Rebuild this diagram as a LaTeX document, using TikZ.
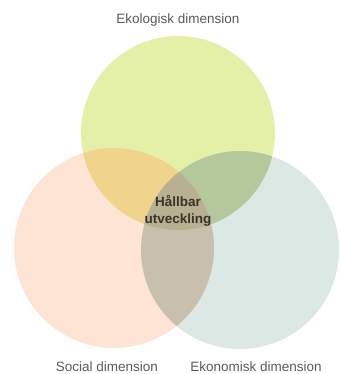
\documentclass[tikz,border=0pt]{standalone}
\usepackage{fontspec}
\setmainfont{Liberation Sans}
\usepackage{xcolor}
\usetikzlibrary{positioning}
\definecolor{ecocolor}{HTML}{E4F0A8}
\definecolor{soccolor}{HTML}{FDE4D4}
\definecolor{econcolor}{HTML}{DCE8E4}
\definecolor{ecosoc}{HTML}{F0D48C}
\definecolor{ecoecon}{HTML}{B4C89C}
\definecolor{socecon}{HTML}{C8C0AC}
\definecolor{corecolor}{HTML}{B8B090}
\definecolor{labelgray}{HTML}{5A5A5A}

\begin{document}
\begin{tikzpicture}[
    x=1pt, y=-1pt,
    dimlabel/.style={font=\fontsize{13.5}{16}\selectfont, text=labelgray, inner sep=1pt},
    core/.style={font=\fontsize{13.5}{17}\selectfont\bfseries, text=black!80!olive, align=center, inner sep=1pt}
]
    \useasboundingbox (0,0) rectangle (340,374);

    % Circle centres
    \coordinate (eko) at (178,133);
    \coordinate (soc) at (114,248);
    \coordinate (ekon) at (240,250);

    % Circles
    \fill[ecocolor] (eko) circle (97);
    \fill[soccolor] (soc) circle (100);
    \fill[econcolor] (ekon) circle (99);

    % Overlaps
    \begin{scope}
        \clip (eko) circle (97);
        \fill[ecosoc] (soc) circle (100);
        \fill[ecoecon] (ekon) circle (99);
    \end{scope}
    \begin{scope}
        \clip (soc) circle (100);
        \fill[socecon] (ekon) circle (99);
    \end{scope}
    \begin{scope}
        \clip (eko) circle (97);
        \clip (soc) circle (100);
        \fill[corecolor] (ekon) circle (99);
    \end{scope}

    % Labels
    \node[dimlabel] (ekolabel) at (178,20) {Ekologisk dimension};
    \node[dimlabel] (soclabel) at (107,367) {Social dimension};
    \node[dimlabel] (ekonlabel) at (256,367) {Ekonomisk dimension};
    \node[core] (hallbar) at (178,211) {Hållbar\\utveckling};
\end{tikzpicture}
\end{document}
